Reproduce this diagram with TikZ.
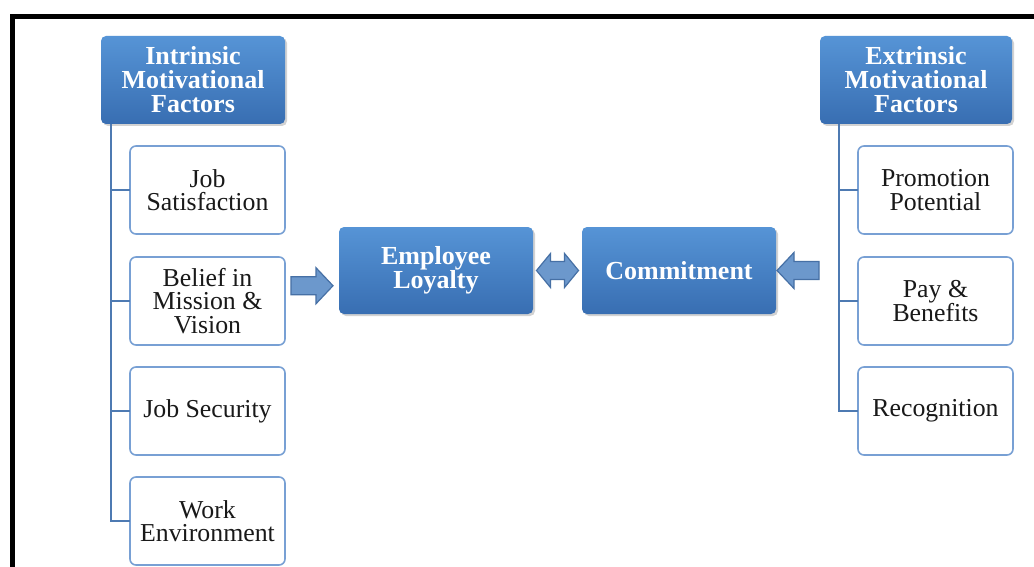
\documentclass[tikz,border=0pt]{standalone}
\usepackage{fontspec}
\setmainfont{Liberation Serif}
\usetikzlibrary{shadows,calc}
\definecolor{hdtop}{RGB}{86,148,214}
\definecolor{hdbot}{RGB}{56,110,178}
\definecolor{boxline}{RGB}{120,160,212}
\definecolor{conn}{RGB}{78,122,178}
\definecolor{arrfill}{RGB}{108,152,204}
\definecolor{arrline}{RGB}{70,112,165}
\tikzset{
  hdr/.style={rectangle, rounded corners=5pt, anchor=north west, inner sep=0pt, outer sep=0pt,
    top color=hdtop, bottom color=hdbot, draw=none, text=white, align=center,
    font=\fontsize{26}{24}\selectfont\bfseries,
    drop shadow={opacity=0.35, shadow xshift=2pt, shadow yshift=-2pt}},
  item/.style={rectangle, rounded corners=6pt, anchor=north west, inner sep=0pt, outer sep=0pt,
    draw=boxline, line width=1.6pt, fill=white, text=black!90, align=center,
    minimum width=155pt, minimum height=88pt,
    font=\fontsize{25.8}{23.5}\selectfont},
  link/.style={draw=conn, line width=2pt},
  blockarr/.style={fill=arrfill, draw=arrline, line width=1.2pt, line join=miter}
}
\begin{document}
\begin{tikzpicture}[x=1pt,y=-1pt]
\useasboundingbox (0,0) rectangle (1034,567);
\fill[white] (0,0) rectangle (1034,567);
\draw[line width=5pt] (12,567) -- (12,16.5) -- (1034,16.5);

% left column
\node[hdr, minimum width=184pt, minimum height=88pt] (ih) at (101,36) {Intrinsic\\Motivational\\Factors};
\node[item] (js) at (130,146) {Job\\Satisfaction};
\node[item] (bm) at (130,257) {Belief in\\Mission \&\\Vision};
\node[item] (sec) at (130,367) {Job Security};
\node[item] (we) at (130,477) {Work\\Environment};
\draw[link] ([xshift=9.5pt]ih.south west) |- (we.west);
\foreach \n in {js,bm,sec}
  \draw[link] ([xshift=9.5pt]ih.south west |- \n.west) -- (\n.west);

% right column
\node[hdr, minimum width=192pt, minimum height=88pt] (eh) at (820,36) {Extrinsic\\Motivational\\Factors};
\node[item] (pp) at (858,146) {Promotion\\Potential};
\node[item] (pb) at (858,257) {Pay \&\\Benefits};
\node[item] (rec) at (858,367) {Recognition};
\draw[link] ([xshift=18.5pt]eh.south west) |- (rec.west);
\foreach \n in {pp,pb}
  \draw[link] ([xshift=18.5pt]eh.south west |- \n.west) -- (\n.west);

% centre
\node[hdr, minimum width=194pt, minimum height=87pt] (el) at (339,227) {Employee\\Loyalty};
\node[hdr, minimum width=194pt, minimum height=87pt] (cm) at (582,227) {Commitment};

% block arrows
\coordinate (a1) at ($(bm.east)!0.5!(el.west)$);
\draw[blockarr] ($(a1)+(-21,-9)$) -- ++(25,0) -- ++(0,-9) -- ++(17,18) -- ++(-17,18) -- ++(0,-9) -- ++(-25,0) -- cycle;
\coordinate (a2) at ($(el.east)!0.5!(cm.west)$);
\draw[blockarr] ($(a2)+(-21,0)$) -- ++(14,-17) -- ++(0,8) -- ++(14,0) -- ++(0,-8) -- ++(14,17) -- ++(-14,17) -- ++(0,-8) -- ++(-14,0) -- ++(0,8) -- cycle;
\coordinate (a3) at ($(cm.east)!0.5!(eh.south west |- cm.east)$);
\draw[blockarr] ($(a3)+(21,-9)$) -- ++(-25,0) -- ++(0,-9) -- ++(-17,18) -- ++(17,18) -- ++(0,-9) -- ++(25,0) -- cycle;
\end{tikzpicture}
\end{document}
